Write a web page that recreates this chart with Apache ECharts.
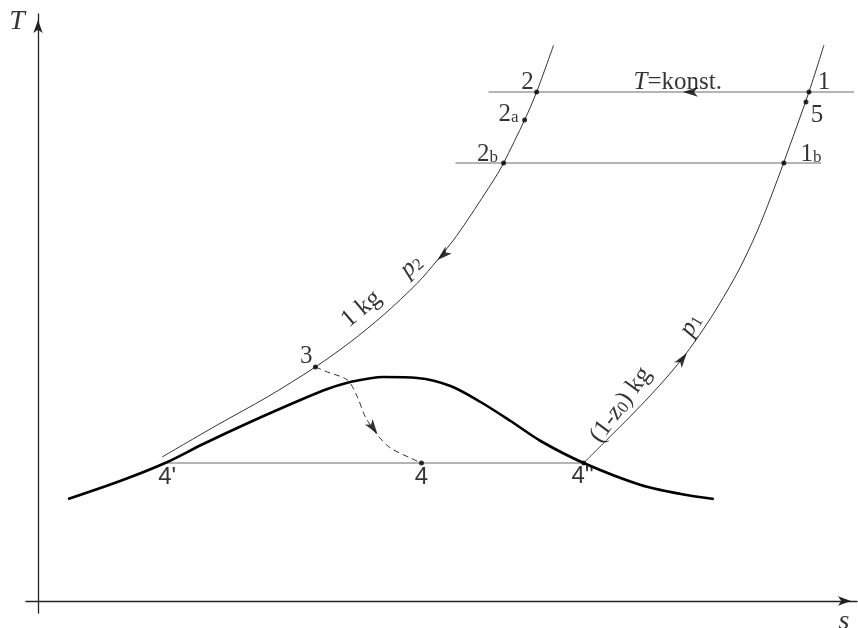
<!DOCTYPE html>
<html>
<head>
<meta charset="utf-8">
<script src="https://cdn.jsdelivr.net/npm/echarts@6/dist/echarts.min.js"></script>
<style>
html,body{margin:0;padding:0;background:#fff}
#main{width:858px;height:628px}
</style>
</head>
<body>
<div id="main"></div>
<script>
// T-s Diagramm, Werte [s, T] in Diagrammeinheiten
let isobarP2 = [[515,556],[498,509],[486,481],[465,438],[457,424],[429,381],[415,361],[399,341],[379,318],[345,286],[312,259],[277,234],[229,204],[179,176],[124,144]];
let isobarP1 = [[785,556],[770,509],[745,439],[732,404],[718,369],[700,331],[680,296],[664,271],[647,247],[630,226],[612,206],[592,185],[569,162],[545,138]];
let dome = [[30,102],[82,120],[127,138],[165,157],[212,179],[262,201],[289,212],[312,219],[345,224],[379,223],[412,215],[442,199],[472,180],[502,160],[545,138],[602,116],[642,107],[675,102]];
let throttle = [[277,234],[289,229],[309,221],[319,204],[327,184],[339,166],[352,153],[372,143],[383,138]];
let isoT1 = [[450,509],[815,509]];
let isoT2 = [[417,438],[782,438]];
let isoT4 = [[127,138],[545,138]];
let points = [[498,509],[486,481],[465,438],[770,509],[767,499],[745,438],[277,234],[383,138],[545,138]];
// Pfeile: [s, T, Richtung in Grad]
let arrows = [[399,341,222],[648,248,54],[644,509,180],[339,167,-55]];
// Beschriftungen: [s, T, Text, Drehung]
let labels = [
    [489,519,'{n|2}',0],
    [470,487,'{n|2}{sub|a}',0],
    [449,447,'{n|2}{sub|b}',0],
    [639,519,'{i|T}{n|=konst.}',0],
    [785,519,'{n|1}',0],
    [778,486,'{n|5}',0],
    [772,447,'{n|1}{sub|b}',0],
    [268,245,'{n|3}',0],
    [323,292,'{n|1 kg}',40],
    [373,335,'{i|p}{sub|2}',42],
    [582,196,'{n|(1-}{i|z}{sub|0}{n|) kg}',54],
    [652,276,'{i|p}{sub|1}',60],
    [129,124,'{s|4\'}',0],
    [383,124,'{s|4}',0],
    [544,125,'{s|4\'\'}',0],
    [-21,579,'{big|T}',0],
    [805,-21,'{big|s}',0]
];

let richText = {
    n: {fontFamily:'Liberation Serif', fontSize:25, color:'#000', verticalAlign:'top', lineHeight:25},
    i: {fontFamily:'Liberation Serif', fontStyle:'italic', fontSize:25, color:'#000', verticalAlign:'top', lineHeight:25},
    sub: {fontFamily:'Liberation Serif', fontSize:17, color:'#000', verticalAlign:'top', lineHeight:25, padding:[8,0,0,0]},
    s: {fontFamily:'Liberation Sans', fontSize:24, color:'#000', verticalAlign:'top', lineHeight:24},
    big: {fontFamily:'Liberation Serif', fontStyle:'italic', fontSize:28, color:'#000', verticalAlign:'top', lineHeight:28}
};

function lineSeries(data, width, color, type, smooth){
    return {
        type:'line', data:data, showSymbol:false, smooth:smooth, silent:true,
        lineStyle:{width:width, color:color, type:type}, z:2
    };
}

let chart = echarts.init(document.getElementById('main'));
let option = {
    animation:false,
    backgroundColor:'#fff',
    grid:{left:26, right:1, top:14, bottom:15},
    xAxis:{
        type:'value', min:-12, max:818,
        axisLine:{onZero:true, lineStyle:{color:'#222', width:1.3}, symbol:['none','arrow'], symbolSize:[7,13], symbolOffset:[0,-6]},
        axisTick:{show:false}, axisLabel:{show:false}, splitLine:{show:false}
    },
    yAxis:{
        type:'value', min:-12, max:587,
        axisLine:{onZero:true, lineStyle:{color:'#222', width:1.3}, symbol:['none','arrow'], symbolSize:[7,13], symbolOffset:[0,-6]},
        axisTick:{show:false}, axisLabel:{show:false}, splitLine:{show:false}
    },
    series:[
        lineSeries(isoT1, 1, '#6a6a6a', 'solid', false),
        lineSeries(isoT2, 1, '#6a6a6a', 'solid', false),
        lineSeries(isoT4, 1, '#6a6a6a', 'solid', false),
        lineSeries(isobarP2, 1, '#333', 'solid', 0.3),
        lineSeries(isobarP1, 1, '#333', 'solid', 0.3),
        lineSeries(dome, 2.6, '#000', 'solid', 0.3),
        lineSeries(throttle, 1, '#333', [6,4], 0.3),
        {
            type:'scatter', data:points, symbol:'circle', symbolSize:5, silent:true,
            itemStyle:{color:'#000'}, z:5
        },
        {
            type:'scatter', silent:true, z:5,
            data:arrows.map(a => ({value:[a[0],a[1]], symbolRotate:a[2]-90})),
            symbol:'arrow', symbolSize:[7,15], itemStyle:{color:'#000'}
        },
        {
            type:'scatter', silent:true, clip:false, z:6,
            data:labels.map(l => ({value:[l[0],l[1]], label:{formatter:l[2], rotate:l[3]}})),
            symbolSize:1, itemStyle:{color:'rgba(0,0,0,0)'},
            label:{show:true, position:'inside', rich:richText}
        }
    ]
};
chart.setOption(option);
</script>
</body>
</html>
